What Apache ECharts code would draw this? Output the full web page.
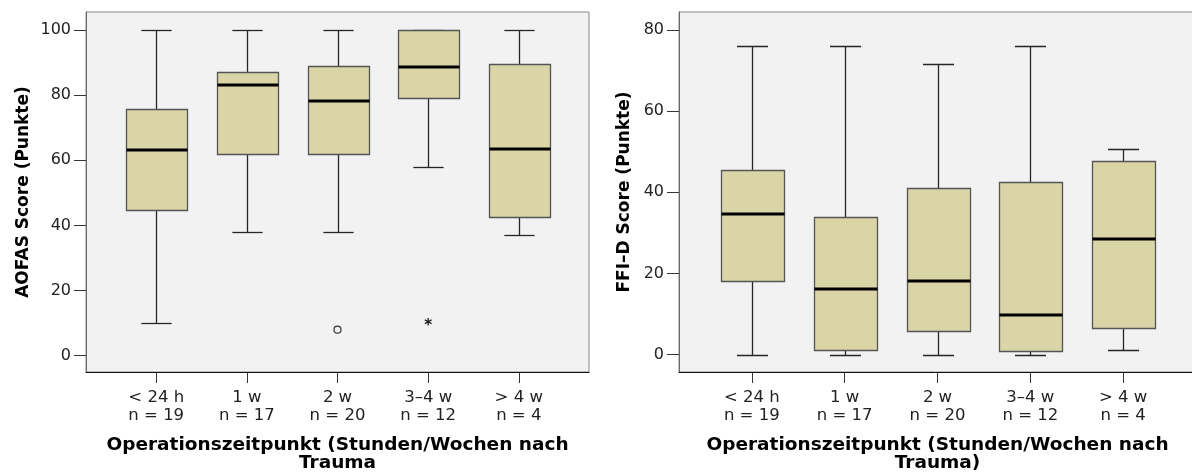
<!DOCTYPE html>
<html>
<head>
<meta charset="utf-8">
<script src="https://cdn.jsdelivr.net/npm/echarts@6/dist/echarts.min.js"></script>
<style>
  html, body { margin: 0; padding: 0; background: #ffffff; }
  #chart { width: 1192px; height: 473px; }
</style>
</head>
<body>
<div id="chart"></div>
<script>
// Groups (time of surgery after trauma) and their sample sizes
const categories = ['< 24 h', '1 w', '2 w', '3–4 w', '> 4 w'];
const groupSizes = ['n = 19', 'n = 17', 'n = 20', 'n = 12', 'n = 4'];

// AOFAS score: box plot statistics per group
const aofasMin    = [10, 38, 38, 58, 37];
const aofasQ1     = [44.6, 62, 62, 79.1, 42.5];
const aofasMedian = [63.1, 83.1, 78.2, 88.5, 63.6];
const aofasQ3     = [75.6, 87.1, 89, 100, 89.6];
const aofasMax    = [100, 100, 100, 100, 100];
// AOFAS outliers (circle) and extreme values (star)
const aofasOutlierGroup = [2];
const aofasOutlierValue = [8];
const aofasExtremeGroup = [3];
const aofasExtremeValue = [10];

// FFI-D score: box plot statistics per group
const ffiMin    = [0, 0, 0, 0, 1.2];
const ffiQ1     = [18.2, 1.2, 5.9, 1.0, 6.5];
const ffiMedian = [34.6, 16.1, 18.2, 9.9, 28.5];
const ffiQ3     = [45.6, 34.0, 41.0, 42.6, 47.8];
const ffiMax    = [76, 76, 71.7, 76, 50.6];

// Axis tick values
const aofasTicks = [0, 20, 40, 60, 80, 100];
const ffiTicks = [0, 20, 40, 60, 80];
const groupTicks = [0, 1, 2, 3, 4];

function boxRows(mins, q1s, meds, q3s, maxs) {
  return mins.map((m, i) => [i, m, q1s[i], meds[i], q3s[i], maxs[i]]);
}

const BOX_FILL = '#d9d5a7';
const BOX_EDGE = '#555555';
const WHISKER = '#262626';

// Box with whiskers, half-width caps and a bold median line
function renderBox(params, api) {
  const x = api.value(0);
  const unit = api.size([1, 0])[0];
  const bw = unit * 0.668;
  const cap = bw / 2;
  const cx = Math.round(api.coord([x, 0])[0]) + 0.5;
  const y = (v) => Math.round(api.coord([x, v])[1]) + 0.5;
  const yMin = y(api.value(1));
  const yQ1 = y(api.value(2));
  const yMed = Math.round(api.coord([x, api.value(3)])[1]);
  const yQ3 = y(api.value(4));
  const yMax = y(api.value(5));
  const left = Math.round(cx - bw / 2) + 0.5;
  const right = Math.round(cx + bw / 2) + 0.5;
  const wStyle = { stroke: WHISKER, lineWidth: 1.3 };
  return {
    type: 'group',
    children: [
      { type: 'line', shape: { x1: cx, y1: yQ3, x2: cx, y2: yMax }, style: wStyle },
      { type: 'line', shape: { x1: cx, y1: yQ1, x2: cx, y2: yMin }, style: wStyle },
      { type: 'line', shape: { x1: cx - cap / 2, y1: yMax, x2: cx + cap / 2, y2: yMax }, style: wStyle },
      { type: 'line', shape: { x1: cx - cap / 2, y1: yMin, x2: cx + cap / 2, y2: yMin }, style: wStyle },
      { type: 'rect', shape: { x: left, y: yQ3, width: right - left, height: yQ1 - yQ3 },
        style: { fill: BOX_FILL, stroke: BOX_EDGE, lineWidth: 1.3 } },
      { type: 'line', shape: { x1: left, y1: yMed, x2: right, y2: yMed },
        style: { stroke: '#000000', lineWidth: 3 } }
    ]
  };
}

function renderOutlier(params, api) {
  const p = api.coord([api.value(0), api.value(1)]);
  return { type: 'circle', shape: { cx: p[0], cy: p[1], r: 3.5 },
    style: { fill: 'none', stroke: '#333333', lineWidth: 1.2 } };
}

function renderExtreme(params, api) {
  const p = api.coord([api.value(0), api.value(1)]);
  return { type: 'text', x: p[0], y: p[1] + 3,
    style: { text: '*', fill: '#111111', font: 'bold 15px "DejaVu Sans"', align: 'center', verticalAlign: 'middle' } };
}

const TICK_FONT = { fontFamily: 'DejaVu Sans', fontSize: 16, color: '#222222' };
const TITLE_FONT = { fontFamily: 'DejaVu Sans', fontSize: 17, fontWeight: 'bold', color: '#000000' };

function xAxisFor(gridIndex, min, max, name) {
  return {
    type: 'value', gridIndex, min, max,
    name, nameLocation: 'middle', nameGap: 64,
    nameTextStyle: Object.assign({}, TITLE_FONT, { fontSize: 18.5, lineHeight: 18 }),
    axisLine: { show: true, onZero: false, lineStyle: { color: '#111111', width: 1 } },
    axisTick: { show: true, customValues: groupTicks, length: 11, lineStyle: { color: '#333333' } },
    axisLabel: Object.assign({
      customValues: groupTicks, margin: 17, lineHeight: 18,
      formatter: (v) => categories[Math.round(v)] + '\n' + groupSizes[Math.round(v)]
    }, TICK_FONT, { fontSize: 16.5 }),
    splitLine: { show: false }
  };
}

function yAxisFor(gridIndex, min, max, ticks, name, nameGap) {
  return {
    type: 'value', gridIndex, min, max,
    name, nameLocation: 'middle', nameGap, nameRotate: 90,
    nameTextStyle: TITLE_FONT,
    axisLine: { show: true, onZero: false, lineStyle: { color: '#6a6a6a', width: 1 } },
    axisTick: { show: true, customValues: ticks, length: 12, lineStyle: { color: '#333333' } },
    axisLabel: Object.assign({ customValues: ticks, margin: 15 }, TICK_FONT),
    splitLine: { show: false }
  };
}

const chart = echarts.init(document.getElementById('chart'), null, { renderer: 'canvas' });

chart.setOption({
  animation: false,
  backgroundColor: '#ffffff',
  grid: [
    { left: 86, top: 12, width: 503, height: 360, show: true, outerBoundsMode: 'none',
      backgroundColor: '#f2f2f2', borderColor: '#8a8a8a', borderWidth: 1 },
    { left: 679, top: 12, width: 517, height: 360, show: true, outerBoundsMode: 'none',
      backgroundColor: '#f2f2f2', borderColor: '#8a8a8a', borderWidth: 1 }
  ],
  xAxis: [
    xAxisFor(0, -0.775, 4.775, 'Operationszeitpunkt (Stunden/Wochen nach\nTrauma'),
    xAxisFor(1, -0.784, 4.784, 'Operationszeitpunkt (Stunden/Wochen nach\nTrauma)')
  ],
  yAxis: [
    yAxisFor(0, -5, 105.5, aofasTicks, 'AOFAS Score (Punkte)', 54),
    yAxisFor(1, -4.25, 84.4, ffiTicks, 'FFI–D Score (Punkte)', 46)
  ],
  series: [
    { type: 'custom', xAxisIndex: 0, yAxisIndex: 0, renderItem: renderBox,
      encode: { x: 0, y: [1, 2, 3, 4, 5] },
      data: boxRows(aofasMin, aofasQ1, aofasMedian, aofasQ3, aofasMax) },
    { type: 'custom', xAxisIndex: 0, yAxisIndex: 0, renderItem: renderOutlier,
      data: aofasOutlierGroup.map((g, i) => [g, aofasOutlierValue[i]]) },
    { type: 'custom', xAxisIndex: 0, yAxisIndex: 0, renderItem: renderExtreme,
      data: aofasExtremeGroup.map((g, i) => [g, aofasExtremeValue[i]]) },
    { type: 'custom', xAxisIndex: 1, yAxisIndex: 1, renderItem: renderBox,
      encode: { x: 0, y: [1, 2, 3, 4, 5] },
      data: boxRows(ffiMin, ffiQ1, ffiMedian, ffiQ3, ffiMax) }
  ]
});
</script>
</body>
</html>
